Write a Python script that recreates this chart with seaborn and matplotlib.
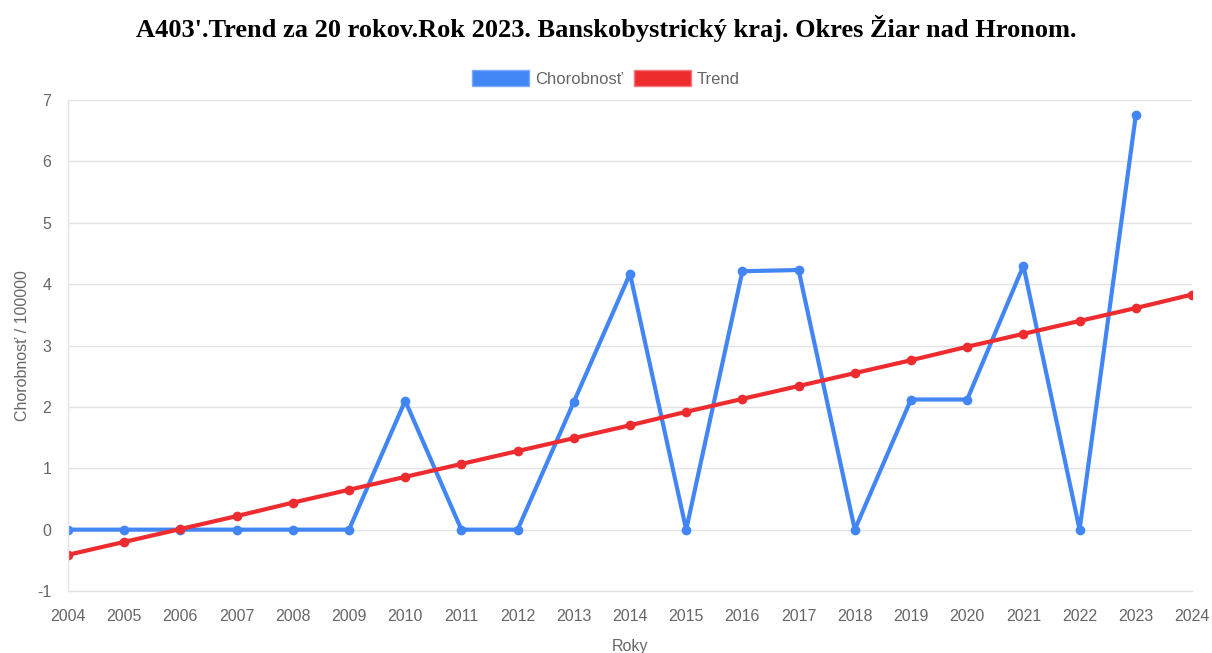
import pandas as pd
import matplotlib.pyplot as plt
import seaborn as sns
from matplotlib.patches import Patch

# Data
years = list(range(2004, 2025))
chorobnost = [0, 0, 0, 0, 0, 0, 2.1, 0, 0, 2.08, 4.17, 0, 4.21, 4.23, 0, 2.12, 2.12, 4.3, 0, 6.75, None]
trend = [-0.41, -0.2, 0.01, 0.22, 0.44, 0.65, 0.86, 1.07, 1.28, 1.49, 1.7, 1.92, 2.13, 2.34, 2.55,
         2.76, 2.98, 3.19, 3.4, 3.61, 3.83]

df = pd.DataFrame({"Rok": years, "Chorobnosť": chorobnost, "Trend": trend})
long = df.melt(id_vars="Rok", var_name="serie", value_name="hodnota").dropna()

blue = "#4286f5"
red = "#ee2b2f"
grid = "#e3e3e3"
txt = "#666666"

sns.set_style("white")
plt.rcParams["font.family"] = ["Liberation Sans", "DejaVu Sans"]
plt.rcParams["axes.unicode_minus"] = False

fig = plt.figure(figsize=(12.12, 6.53), dpi=100)
ax = fig.add_axes([0.0561, 0.0949, 0.9274, 0.752])

sns.lineplot(data=long, x="Rok", y="hodnota", hue="serie", palette={"Chorobnosť": blue, "Trend": red},
             marker="o", markersize=7, markeredgewidth=0, linewidth=3, legend=False, ax=ax)

ax.set_xlim(2004, 2024)
ax.set_ylim(-1, 7)
ax.set_xticks(years)
ax.set_yticks(range(-1, 8))
ax.yaxis.grid(True, color=grid, linewidth=1)
ax.set_axisbelow(True)
for s in ["top", "right"]:
    ax.spines[s].set_visible(False)
for s in ["left", "bottom"]:
    ax.spines[s].set_color(grid)
    ax.spines[s].set_linewidth(1)
ax.tick_params(axis="both", colors=grid, labelcolor=txt, labelsize=11.5, length=8, width=1, pad=4)
ax.tick_params(axis="x", pad=5)

ax.set_xlabel("Roky", color=txt, fontsize=11.5, labelpad=11)
ax.set_ylabel("Chorobnosť / 100000", color=txt, fontsize=11.5, labelpad=5)

fig.text(0.5, 0.957, "A403'.Trend za 20 rokov.Rok 2023. Banskobystrický kraj. Okres Žiar nad Hronom.",
         ha="center", va="center", color="black",
         fontfamily="Liberation Serif", fontweight="bold", fontsize=19)

handles = [Patch(facecolor=blue, edgecolor="#7aaaf7", linewidth=1, label="Chorobnosť"),
           Patch(facecolor=red, edgecolor="#f47a7c", linewidth=1, label="Trend")]
fig.legend(handles=handles, loc="center", bbox_to_anchor=(0.5, 0.880), ncol=2, frameon=False,
           handlelength=3.4, handleheight=1.15, handletextpad=0.36, columnspacing=0.66,
           fontsize=12, labelcolor=txt)

fig.savefig("out.png", dpi=100)
